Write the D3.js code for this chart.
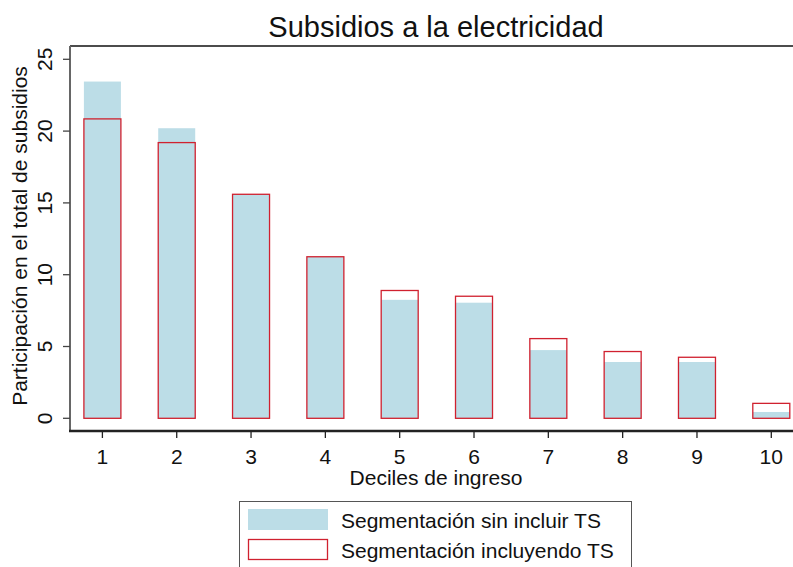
<!DOCTYPE html>
<html>
<head>
<meta charset="utf-8">
<script src="https://cdn.jsdelivr.net/npm/d3@7"></script>
<style>
body { margin:0; background:#fff; }
text { font-family: "Liberation Sans", Arial, sans-serif; fill:#111; }
</style>
</head>
<body>
<script>
var deciles = [1,2,3,4,5,6,7,8,9,10];
var sinTS = [23.45, 20.2, 15.6, 11.25, 8.25, 8.05, 4.75, 3.92, 3.92, 0.44];
var conTS = [20.85, 19.2, 15.6, 11.25, 8.9, 8.5, 5.55, 4.65, 4.25, 1.04];
var yTicks = [0,5,10,15,20,25];
var legendLabels = ["Segmentación sin incluir TS", "Segmentación incluyendo TS"];

var totalWidth = 793, totalHeight = 567;
var plot = {left:70, right:793, top:46, bottom:431};

var svg = d3.select("body").append("svg")
  .attr("width", totalWidth)
  .attr("height", totalHeight);

var x = d3.scaleLinear().domain([1,10]).range([102.4, 771.3]);
var y = d3.scaleLinear().domain([0,25]).range([418.3, 59.3]);
var barW = 37;

// bars, light blue first then red outlines on top
svg.selectAll(".sin")
  .data(deciles)
  .enter().append("rect")
  .attr("class","sin")
  .attr("x", function(d){ return x(d) - barW/2; })
  .attr("width", barW)
  .attr("y", function(d,i){ return y(sinTS[i]); })
  .attr("height", function(d,i){ return y(0) - y(sinTS[i]); })
  .attr("fill","#bcdde7");

svg.selectAll(".con")
  .data(deciles)
  .enter().append("rect")
  .attr("class","con")
  .attr("x", function(d){ return x(d) - barW/2; })
  .attr("width", barW)
  .attr("y", function(d,i){ return y(conTS[i]); })
  .attr("height", function(d,i){ return y(0) - y(conTS[i]); })
  .attr("fill","none")
  .attr("stroke","#d0212f")
  .attr("stroke-width",1.3);

// top border
svg.append("line")
  .attr("x1", plot.left).attr("x2", plot.right)
  .attr("y1", plot.top).attr("y2", plot.top)
  .attr("stroke","#111").attr("stroke-width",1.5);

// y axis
var yAxis = svg.append("g")
  .attr("transform","translate(" + plot.left + ",0)");
yAxis.append("line")
  .attr("x1",0).attr("x2",0)
  .attr("y1",plot.top).attr("y2",plot.bottom)
  .attr("stroke","#666").attr("stroke-width",2);
yAxis.selectAll(".tk")
  .data(yTicks).enter().append("line")
  .attr("x1",-7).attr("x2",0)
  .attr("y1",function(d){ return y(d); })
  .attr("y2",function(d){ return y(d); })
  .attr("stroke","#444").attr("stroke-width",1.3);
yAxis.selectAll(".tl")
  .data(yTicks).enter().append("text")
  .attr("transform",function(d){ return "translate(-18," + y(d) + ") rotate(-90)"; })
  .attr("text-anchor","middle")
  .attr("font-size","21px")
  .text(function(d){ return d; });

svg.append("text")
  .attr("transform","translate(27," + 236 + ") rotate(-90)")
  .attr("text-anchor","middle")
  .attr("font-size","21px")
  .text("Participación en el total de subsidios");

// x axis
var xAxis = svg.append("g")
  .attr("transform","translate(0," + plot.bottom + ")");
xAxis.append("line")
  .attr("x1",plot.left - 1).attr("x2",plot.right)
  .attr("y1",0).attr("y2",0)
  .attr("stroke","#222").attr("stroke-width",2.5);
xAxis.selectAll(".tk")
  .data(deciles).enter().append("line")
  .attr("x1",function(d){ return x(d); })
  .attr("x2",function(d){ return x(d); })
  .attr("y1",0).attr("y2",7)
  .attr("stroke","#222").attr("stroke-width",1.3);
xAxis.selectAll(".tl")
  .data(deciles).enter().append("text")
  .attr("x",function(d){ return x(d); })
  .attr("y",33)
  .attr("text-anchor","middle")
  .attr("font-size","21px")
  .text(function(d){ return d; });

svg.append("text")
  .attr("x",436).attr("y",485)
  .attr("text-anchor","middle")
  .attr("font-size","21px")
  .text("Deciles de ingreso");

// title
svg.append("text")
  .attr("x",436).attr("y",37)
  .attr("text-anchor","middle")
  .attr("font-size","29px")
  .text("Subsidios a la electricidad");

// legend
var legend = svg.append("g");
legend.append("rect")
  .attr("x",239.5).attr("y",501.5)
  .attr("width",392).attr("height",80)
  .attr("fill","#fff").attr("stroke","#555").attr("stroke-width",1);
legend.append("rect")
  .attr("x",248).attr("y",509).attr("width",80).attr("height",21)
  .attr("fill","#bcdde7");
legend.append("rect")
  .attr("x",248.5).attr("y",539.5).attr("width",79).attr("height",20)
  .attr("fill","none").attr("stroke","#d0212f").attr("stroke-width",1.3);
legend.selectAll(".lt")
  .data(legendLabels).enter().append("text")
  .attr("x",341)
  .attr("y",function(d,i){ return 528 + i*30; })
  .attr("font-size","21px")
  .text(function(d){ return d; });
</script>
</body>
</html>
